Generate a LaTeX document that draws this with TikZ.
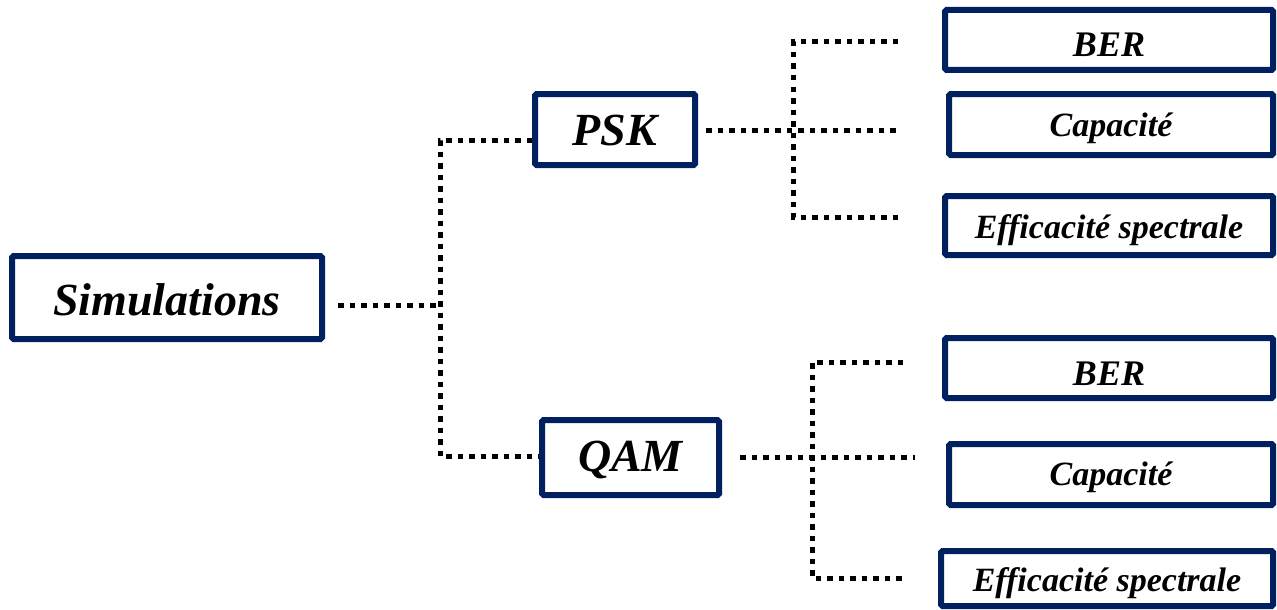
\documentclass[tikz,border=0pt]{standalone}
\usepackage{fontspec}
\setmainfont{Liberation Serif}
\definecolor{boxblue}{RGB}{0,32,96}
\tikzset{
  x=1pt, y=-1pt,
  box/.style={draw=boxblue, line width=6pt, rounded corners=1.5pt, fill=white,
    inner sep=0pt, text depth=0pt},
  big/.style={font=\bfseries\itshape\fontsize{46}{50}\selectfont},
  mid/.style={font=\bfseries\itshape\fontsize{36}{40}\selectfont},
  small/.style={font=\bfseries\itshape\fontsize{34}{38}\selectfont},
  link/.style={draw=black, line width=5pt, dash pattern=on 5.5pt off 6pt}
}
\begin{document}
\begin{tikzpicture}
\useasboundingbox (0,0) rectangle (1277,610);

% root and second level
\node[box, big, text height=35pt, minimum width=310pt, minimum height=83pt] (sim) at (167,297.5) {Simulations};
\node[box, big, text height=31pt, minimum width=160pt, minimum height=71pt] (psk) at (615,129.5) {PSK};
\node[box, big, text height=28pt, minimum width=177pt, minimum height=75pt] (qam) at (630.5,457.5) {QAM};

% PSK results
\node[box, mid, text height=34pt, minimum width=328pt, minimum height=60pt] (ber1) at (1109,40) {BER};
\node[box, small, text height=23pt, minimum width=324pt, minimum height=61pt] (cap1) at (1111,124.5) {Capacité};
\node[box, small, text height=25pt, minimum width=328pt, minimum height=59pt] (eff1) at (1109,225.5) {Efficacité spectrale};

% QAM results
\node[box, mid, text height=34pt, minimum width=328pt, minimum height=60pt] (ber2) at (1109,368) {BER};
\node[box, small, text height=21pt, minimum width=324pt, minimum height=61pt] (cap2) at (1111,474.5) {Capacité};
\node[box, small, text height=26pt, minimum width=332pt, minimum height=55pt] (eff2) at (1107,578.5) {Efficacité spectrale};

% junction points of the tree
\coordinate (s0) at (338,305);
\coordinate (j0) at (440,305);
\coordinate (j1) at (440,140);
\coordinate (j2) at (440,456);

\coordinate (p0) at (706,130);
\coordinate (pe) at (900,130);
\coordinate (pt) at (793,42);
\coordinate (pte) at (898,42);
\coordinate (pb) at (793,217);
\coordinate (pbe) at (898,217);

\coordinate (q0) at (740,457);
\coordinate (qe) at (915,457);
\coordinate (qt) at (812,362);
\coordinate (qte) at (903,362);
\coordinate (qb) at (812,578);
\coordinate (qbe) at (907,578);

% root to PSK / QAM
\draw[link] (s0) -- (j0);
\draw[link] (j1 -| psk.west) -- (j1) -- (j2) -- (j2 -| qam.west);

% PSK branch
\draw[link] (p0) -- (pe);
\draw[link] (pte) -- (pt) -- (pb) -- (pbe);

% QAM branch
\draw[link] (q0) -- (qe);
\draw[link] (qte) -- (qt) -- (qb) -- (qbe);
\end{tikzpicture}
\end{document}
